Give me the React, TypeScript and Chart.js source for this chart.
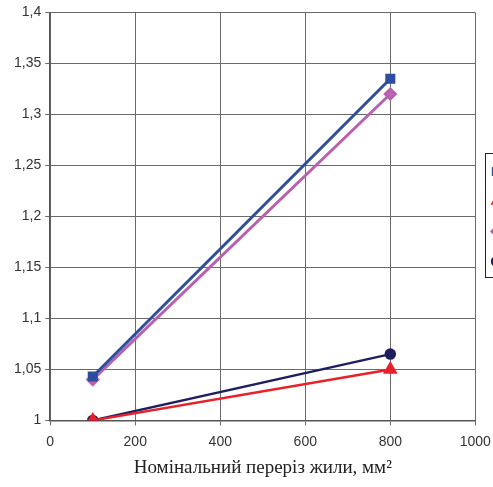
import React, { useEffect, useRef } from "react";
import { Chart, registerables } from "chart.js";

Chart.register(...registerables);

const xValues = [100, 800];
const seriesNames = ["1", "2", "3", "4"];
const seriesA = [1.043, 1.335];
const seriesB = [1.0, 1.05];
const seriesC = [1.04, 1.32];
const seriesD = [1.0, 1.065];
const yTicks = [1, 1.05, 1.1, 1.15, 1.2, 1.25, 1.3, 1.35, 1.4];
const xTitle = "Номінальний переріз жили, мм²";

const legendBorder = {
  id: "legendBorder",
  afterDraw(chart: any) {
    const l = chart.legend;
    if (!l || !l.legendHitBoxes || !l.legendHitBoxes.length) return;
    const hb = l.legendHitBoxes;
    const left = Math.min(...hb.map((h: any) => h.left)) - 8;
    const top = Math.min(...hb.map((h: any) => h.top)) - 12;
    const bottom = Math.max(...hb.map((h: any) => h.top + h.height)) + 10;
    const right = Math.max(...hb.map((h: any) => h.left + h.width)) + 10;
    const ctx = chart.ctx;
    ctx.save();
    ctx.strokeStyle = "#222";
    ctx.lineWidth = 1;
    ctx.strokeRect(Math.round(left) + 0.5, Math.round(top) + 0.5, Math.round(right - left), Math.round(bottom - top));
    ctx.restore();
  },
};

export default function App() {
  const ref = useRef<HTMLCanvasElement>(null);
  useEffect(() => {
    const mk = (arr: number[]) => xValues.map((x, i) => ({ x, y: arr[i] }));
    const chart = new Chart(ref.current!, {
      type: "line",
      data: {
        datasets: [
          { label: seriesNames[0], data: mk(seriesA), borderColor: "#2f4d9e", backgroundColor: "#2f4d9e", borderWidth: 3, pointStyle: "rect", pointRadius: 5 },
          { label: seriesNames[1], data: mk(seriesB), borderColor: "#e8202a", backgroundColor: "#e8202a", borderWidth: 2.5, pointStyle: "triangle", pointRadius: 6 },
          { label: seriesNames[2], data: mk(seriesC), borderColor: "#b862ad", backgroundColor: "#c064b4", borderWidth: 3, pointStyle: "rectRot", pointRadius: 5 },
          { label: seriesNames[3], data: mk(seriesD), borderColor: "#1f1f60", backgroundColor: "#1f1f60", borderWidth: 2.5, pointStyle: "circle", pointRadius: 4.5 },
        ],
      },
      options: {
        animation: false,
        responsive: true,
        maintainAspectRatio: false,
        layout: { padding: { left: 10, top: 6, right: 0, bottom: 8 } },
        plugins: {
          legend: {
            position: "right",
            fullSize: false,
            labels: { usePointStyle: true, boxWidth: 6, boxHeight: 6, padding: 18, font: { size: 12, family: "Liberation Sans" }, color: "#222" },
          },
          tooltip: { enabled: false },
        },
        scales: {
          x: {
            type: "linear",
            min: 0,
            max: 1000,
            ticks: {
              stepSize: 200,
              color: "#333",
              font: { size: 14, family: "Liberation Sans" },
              padding: 8,
              callback: (v: any) => String(v),
            },
            grid: { color: "#6a6a6a", lineWidth: 1, tickLength: 5 },
            border: { color: "#555", width: 1.5 },
            title: { display: true, text: xTitle, color: "#222", font: { size: 19, family: "Liberation Serif" }, padding: { top: -2, bottom: 0 } },
          },
          y: {
            min: 1,
            max: 1.4,
            afterBuildTicks: (axis: any) => {
              axis.ticks = yTicks.map((v) => ({ value: v }));
            },
            ticks: {
              color: "#333",
              font: { size: 14, family: "Liberation Sans" },
              padding: 4,
              callback: (v: any) => String(Math.round(Number(v) * 100) / 100).replace(".", ","),
            },
            grid: { color: "#6a6a6a", lineWidth: 1, tickLength: 5 },
            border: { color: "#555", width: 1.5 },
          },
        },
      },
      plugins: [legendBorder],
    });
    return () => chart.destroy();
  }, []);
  return (
    <div style={{ position: "fixed", left: 0, top: 0, width: 493, height: 487, overflow: "hidden", background: "#fff" }}>
      <div style={{ position: "absolute", left: 0, top: 0, width: 522, height: 487 }}>
        <canvas ref={ref} />
      </div>
    </div>
  );
}
